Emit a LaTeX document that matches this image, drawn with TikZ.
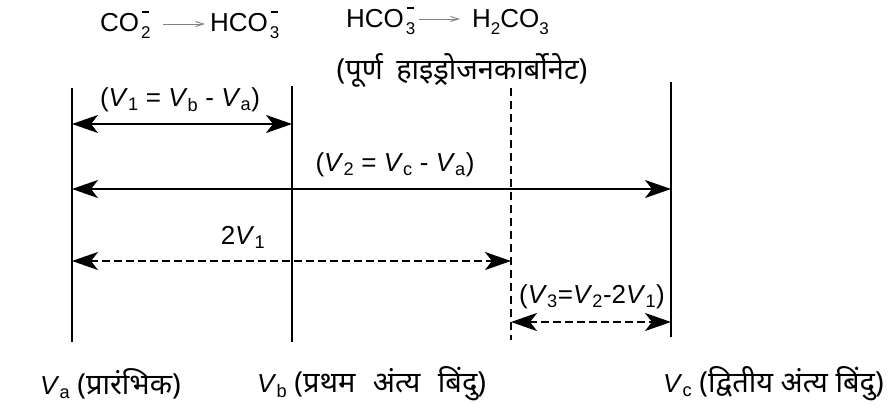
\documentclass[tikz,border=0pt]{standalone}
\usepackage{fontspec}
\setmainfont{Liberation Sans}
\newfontfamily\dev[Script=Devanagari]{Noto Sans}
\usetikzlibrary{arrows.meta}
\newcommand{\Vs}[1]{\textit{V}\textsubscript{#1}}
\newcommand{\ionss}[1]{\kern2pt\rlap{\kern1pt\raisebox{19pt}{\rule{7pt}{1.6pt}}}\raisebox{-7pt}{\fontsize{17}{17}\selectfont #1}}
\newcommand{\sbx}[1]{\raisebox{-7pt}{\fontsize{17}{17}\selectfont #1}}
\newcommand{\wsp}[1]{\hspace{#1}}
\begin{document}
\begin{tikzpicture}[x=1pt,y=-1pt,
  tline/.style={line width=2.5pt},
  dline/.style={line width=2.2pt, dash pattern=on 8pt off 5pt},
  dim/.style={line width=2.5pt, {Stealth[length=26pt,width=18pt,inset=7pt]}-{Stealth[length=26pt,width=18pt,inset=7pt]}},
  ddim/.style={dim, dash pattern=on 8pt off 4pt},
  lbl/.style={font=\fontsize{26}{30}\selectfont, inner sep=0pt},
  dlbl/.style={font=\fontsize{29}{33}\selectfont\dev, inner sep=0pt},
  rxn/.style={draw=gray, line width=0.9pt, -{Straight Barb[length=8pt,width=5pt]}}]
\useasboundingbox (0,0) rectangle (894,412);
% vertical lines
\coordinate (vaT) at (72,88);  \coordinate (vaB) at (72,342);
\coordinate (vbT) at (292,86); \coordinate (vbB) at (292,342);
\coordinate (vdT) at (511,88); \coordinate (vdB) at (511,340);
\coordinate (vcT) at (671,82); \coordinate (vcB) at (671,337);
\draw[tline] (vaT) -- (vaB);
\draw[tline] (vbT) -- (vbB);
\draw[dline] (vdT) -- (vdB);
\draw[tline] (vcT) -- (vcB);
% dimension arrows
\coordinate (a1L) at (72,124);  \coordinate (a1R) at (292,124);
\coordinate (a2L) at (72,189);  \coordinate (a2R) at (671,189);
\coordinate (a3L) at (72,261);  \coordinate (a3R) at (511,261);
\coordinate (a4L) at (511,322); \coordinate (a4R) at (671,322);
\draw[dim] (a1L) -- (a1R);
\draw[dim] (a2L) -- (a2R);
\draw[ddim] (a3L) -- (a3R);
\draw[ddim] (a4L) -- (a4R);
% labels
\node[lbl] (l1) at (180,100) {(\Vs{1} = \Vs{b} - \Vs{a})};
\node[lbl] (l2) at (395,165) {(\Vs{2} = \Vs{c} - \Vs{a})};
\node[lbl] (l3) at (243,237) {2\Vs{1}};
\node[lbl] (l4) at (592,297) {(\Vs{3}=\Vs{2}-2\Vs{1})};
% top reactions
\node[lbl,anchor=base west] (co2) at (100,32) {CO\ionss{2}};
\node[lbl,anchor=base west] (hco3a) at (210,32) {HCO\ionss{3}};
\node[lbl,anchor=base west] (hco3b) at (346,28) {HCO\ionss{3}};
\node[lbl,anchor=base west] (h2co3) at (472,28) {H\sbx{2}CO\sbx{3}};
\coordinate (r1a) at (163,24); \coordinate (r1b) at (205,24);
\coordinate (r2a) at (419,19); \coordinate (r2b) at (460,19);
\draw[rxn] (r1a) -- (r1b);
\draw[rxn] (r2a) -- (r2b);
\node[dlbl] (pc) at (462,70) {(पूर्ण\wsp{6pt} हाइड्रोजनकार्बोनेट)};
% bottom labels
\node[lbl,anchor=west] (ba) at (40,384) {\Vs{a} {\dev\fontsize{29}{33}\selectfont (प्रारंभिक)}};
\node[lbl,anchor=west] (bb) at (257,384) {\Vs{b} {\dev\fontsize{29}{33}\selectfont (प्रथम\wsp{10pt} अंत्य\wsp{10pt} बिंदु)}};
\node[lbl,anchor=west] (bc) at (663,384) {\Vs{c} {\dev\fontsize{29}{33}\selectfont (द्वितीय अंत्य बिंदु)}};
\end{tikzpicture}
\end{document}
